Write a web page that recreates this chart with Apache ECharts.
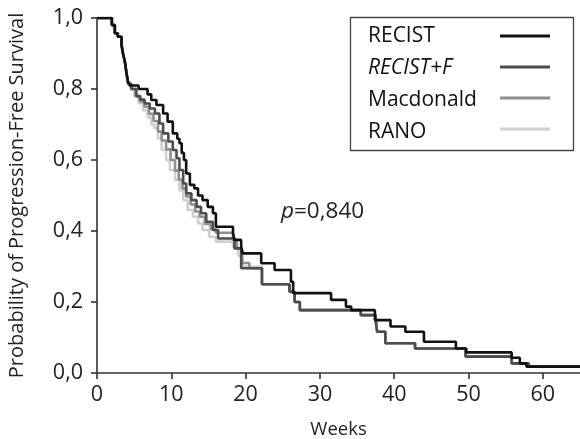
<!DOCTYPE html>
<html><head><meta charset="utf-8">
<script src="https://cdn.jsdelivr.net/npm/echarts@6/dist/echarts.min.js"></script>
<style>html,body{margin:0;padding:0;background:#fff}#c{width:580px;height:439px}</style>
</head><body><div id="c"></div>
<script>
const seriesNames = ['RECIST', 'RECIST+F', 'Macdonald', 'RANO'];
const seriesColors = ['#111111', '#4d4d4d', '#8f8f8f', '#cfcfcf'];
const xTickValues = [0, 10, 20, 30, 40, 50, 60];
const yTickValues = [0, 0.2, 0.4, 0.6, 0.8, 1.0];
const pValueText = 'p=0,840';

// [weeks, probability] — Kaplan-Meier steps
const recist = [[0,1],[2,0.98],[2.4,0.957],[2.8,0.947],[3.3,0.924],[3.5,0.9],[3.75,0.877],[4.0,0.84],[4.2,0.82],[4.4,0.81],[5.6,0.8],[6.8,0.785],[7.3,0.769],[8.0,0.755],[8.9,0.731],[9.5,0.708],[10.2,0.675],[10.8,0.66],[11.1,0.647],[11.4,0.62],[11.7,0.6],[12.0,0.562],[12.5,0.53],[13.1,0.52],[13.6,0.5],[14.2,0.487],[14.9,0.468],[15.6,0.45],[16.0,0.412],[18.3,0.394],[18.5,0.375],[19.4,0.356],[19.6,0.337],[22.1,0.309],[23.9,0.29],[26.1,0.257],[26.4,0.225],[31.5,0.206],[33.5,0.187],[34.2,0.177],[37.4,0.149],[39.5,0.131],[41.5,0.116],[44.0,0.088],[48.3,0.069],[49.7,0.058],[55.8,0.043],[56.9,0.027],[57.8,0.018],[65,0.018]];
const recistF = [[0,1],[2,0.98],[2.4,0.957],[2.8,0.947],[3.3,0.924],[3.5,0.9],[3.75,0.877],[4.0,0.84],[4.2,0.815],[4.6,0.8],[5.3,0.78],[5.8,0.77],[6.4,0.759],[7.1,0.745],[7.8,0.731],[8.4,0.703],[8.9,0.675],[9.6,0.652],[10.2,0.628],[10.7,0.605],[11.1,0.572],[11.6,0.534],[12.0,0.506],[12.7,0.487],[13.4,0.468],[14.0,0.45],[14.7,0.426],[15.6,0.403],[16.3,0.379],[18.5,0.351],[19.4,0.295],[22.2,0.25],[25.9,0.229],[26.6,0.2],[27.3,0.177],[35.5,0.163],[37.5,0.149],[37.7,0.116],[38.8,0.084],[42.8,0.069],[49.6,0.046],[55.8,0.027],[58.1,0.018],[65,0.018]];
const macdonald = [[0,1],[2,0.98],[2.4,0.957],[2.8,0.947],[3.3,0.924],[3.5,0.9],[3.75,0.877],[4.0,0.84],[4.2,0.815],[4.6,0.8],[5.2,0.78],[5.8,0.765],[6.4,0.75],[7.0,0.73],[7.6,0.71],[8.2,0.68],[8.7,0.655],[9.3,0.63],[9.9,0.6],[10.5,0.57],[11.0,0.545],[11.5,0.52],[12.0,0.497],[12.6,0.475],[13.2,0.455],[13.8,0.44],[14.5,0.42],[15.3,0.405],[16.0,0.395],[18.3,0.375],[18.8,0.35],[19.5,0.31],[20.5,0.295],[22.2,0.25],[25.9,0.229],[26.6,0.2],[27.3,0.177],[35.5,0.163],[37.5,0.149],[37.7,0.116],[38.8,0.084],[42.8,0.069],[49.6,0.046],[55.8,0.027],[58.1,0.018],[65,0.018]];
const rano = [[0,1],[2,0.98],[2.4,0.957],[2.8,0.947],[3.3,0.924],[3.5,0.9],[3.75,0.877],[4.0,0.84],[4.2,0.815],[4.6,0.8],[5.0,0.78],[5.6,0.76],[6.2,0.74],[6.8,0.72],[7.3,0.7],[7.7,0.69],[8.2,0.661],[8.7,0.628],[9.3,0.6],[9.8,0.572],[10.5,0.544],[11.1,0.515],[11.6,0.487],[12.2,0.459],[12.9,0.44],[13.6,0.421],[14.2,0.403],[15.1,0.384],[16.0,0.37],[18.3,0.355],[19.0,0.33],[19.6,0.3],[22.2,0.25],[25.9,0.229],[26.6,0.2],[27.3,0.177],[35.5,0.163],[37.5,0.149],[37.7,0.116],[38.8,0.084],[42.8,0.069],[49.6,0.046],[55.8,0.027],[58.1,0.018],[65,0.018]];
const seriesData = [recist, recistF, macdonald, rano];

const FONT = 'Open Sans';
const chart = echarts.init(document.getElementById('c'), null, {renderer: 'canvas'});
const comma = v => v.toFixed(1).replace('.', ',');

chart.setOption({
  animation: false,
  backgroundColor: '#fff',
  grid: {left: 97, right: 0, top: 18, bottom: 66, containLabel: false, outerBoundsMode: 'none'},
  xAxis: {
    type: 'value', min: 0, max: 65, interval: 10,
    name: 'Weeks', nameLocation: 'middle', nameGap: 47,
    nameTextStyle: {fontFamily: FONT, fontSize: 18.5, color: '#222'},
    axisLine: {show: true, lineStyle: {color: '#333', width: 1.6}},
    axisTick: {show: true, length: 6, lineStyle: {color: '#333', width: 1.6}},
    axisLabel: {fontFamily: FONT, fontSize: 21.5, color: '#222', margin: 11, showMaxLabel: false,
      formatter: v => xTickValues.includes(v) ? String(v) : ''},
    splitLine: {show: false}
  },
  yAxis: {
    type: 'value', min: 0, max: 1, interval: 0.2,
    name: 'Probability of Progression-Free Survival', nameLocation: 'middle', nameGap: 70,
    nameTextStyle: {fontFamily: FONT, fontSize: 20, color: '#222'},
    axisLine: {show: true, lineStyle: {color: '#333', width: 1.6}},
    axisTick: {show: true, length: 6, lineStyle: {color: '#333', width: 1.6}},
    axisLabel: {fontFamily: FONT, fontSize: 21.5, color: '#222', margin: 14,
      formatter: v => yTickValues.some(t => Math.abs(t - v) < 1e-9) ? comma(v) : ''},
    splitLine: {show: false}
  },
  title: {
    text: '{i|p}' + pValueText.slice(1), left: 281, top: 200, padding: 0,
    textStyle: {fontFamily: FONT, fontSize: 22.5, fontWeight: 'normal', color: '#222',
      rich: {i: {fontFamily: FONT, fontSize: 22.5, fontStyle: 'italic', color: '#222'}}}
  },
  legend: [
    {
      data: seriesNames, orient: 'vertical', left: 363, top: 26, padding: 0,
      itemWidth: 0, itemHeight: 20, itemGap: 11, icon: 'none',
      formatter: n => n === 'RECIST+F' ? '{i|' + n + '}' : n,
      textStyle: {fontFamily: FONT, fontSize: 21, color: '#111', lineHeight: 20,
        rich: {i: {fontFamily: FONT, fontSize: 21, fontStyle: 'italic', color: '#111', lineHeight: 20}}}
    },
    {
      data: seriesNames, orient: 'vertical', left: 500, top: 26, padding: 0,
      itemWidth: 50, itemHeight: 3, itemGap: 11, icon: 'rect',
      formatter: () => ' ',
      textStyle: {fontSize: 20, lineHeight: 20}
    }
  ],
  graphic: [{
    type: 'rect', left: 348, top: 15, z: 100,
    shape: {x: 0, y: 0, width: 223, height: 133},
    style: {fill: 'none', stroke: '#444', lineWidth: 1.3}
  }],
  series: seriesNames.map((name, i) => ({
    name, type: 'line', step: 'end', data: seriesData[i],
    symbol: 'none', z: 10 - i,
    lineStyle: {color: seriesColors[i], width: 2.6},
    itemStyle: {color: seriesColors[i]},
    emphasis: {disabled: true}
  }))
});
</script></body></html>
